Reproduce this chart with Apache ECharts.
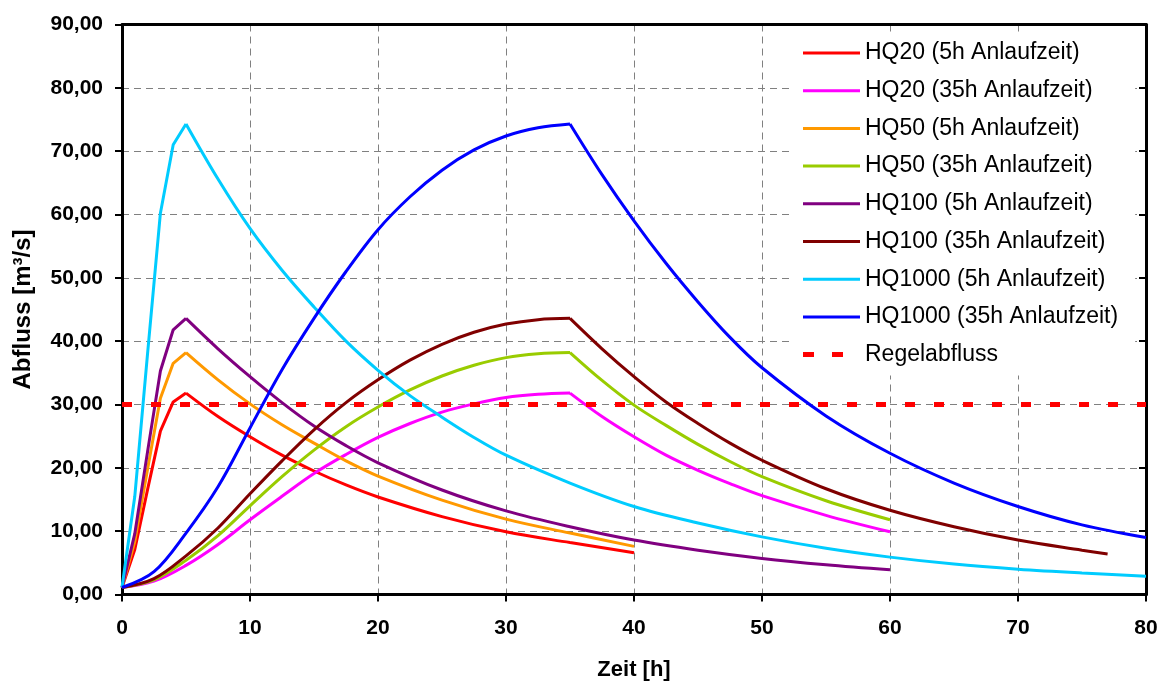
<!DOCTYPE html>
<html>
<head>
<meta charset="utf-8">
<script src="https://cdn.jsdelivr.net/npm/echarts@6/dist/echarts.min.js"></script>
<style>
  html, body { margin: 0; padding: 0; background: #fff; }
  #chart { width: 1161px; height: 682px; }
</style>
</head>
<body>
<div id="chart"></div>
<script>
// Abflussganglinien: Zeit [h] gegen Abfluss [m³/s]

// HQ20 (5h Anlaufzeit)
const tHQ20_5 = [0, 1, 2, 3, 4, 5, 7.5, 10, 12.5, 15, 17.5, 20, 25, 30, 35, 40];
const qHQ20_5 = [1.1, 7.1, 16.6, 25.8, 30.4, 31.8, 28.1, 24.9, 22.0, 19.5, 17.3, 15.4, 12.3, 9.9, 8.2, 6.6];

// HQ20 (35h Anlaufzeit)
const tHQ20_35 = [0, 2.5, 5, 7.5, 10, 12.5, 15, 17.5, 20, 22.5, 25, 27.5, 30, 32.5, 35, 37.5, 40, 42.5, 45, 47.5, 50, 55, 60];
const qHQ20_35 = [1.1, 2.1, 4.6, 7.9, 11.8, 15.5, 19.1, 22.1, 24.8, 27.0, 28.8, 30.1, 31.1, 31.6, 31.8, 28.1, 24.9, 22.0, 19.6, 17.5, 15.6, 12.5, 9.9];

// HQ50 (5h Anlaufzeit)
const tHQ50_5 = [0, 1, 2, 3, 4, 5, 7.5, 10, 12.5, 15, 17.5, 20, 25, 30, 35, 40];
const qHQ50_5 = [1.1, 8.4, 19.8, 31.0, 36.5, 38.2, 33.9, 30.1, 26.8, 23.9, 21.1, 18.7, 14.9, 11.9, 9.7, 7.6];

// HQ50 (35h Anlaufzeit)
const tHQ50_35 = [0, 2.5, 5, 7.5, 10, 12.5, 15, 17.5, 20, 22.5, 25, 27.5, 30, 32.5, 35, 37.5, 40, 42.5, 45, 47.5, 50, 55, 60];
const qHQ50_35 = [1.1, 2.3, 5.4, 9.3, 14.0, 18.6, 22.8, 26.5, 29.6, 32.3, 34.5, 36.2, 37.4, 38.0, 38.2, 33.8, 29.9, 26.7, 23.7, 21.0, 18.6, 14.8, 11.8];

// HQ100 (5h Anlaufzeit)
const tHQ100_5 = [0, 1, 2, 3, 4, 5, 7.5, 10, 12.5, 15, 17.5, 20, 25, 30, 35, 40, 45, 50, 55, 60];
const qHQ100_5 = [1.1, 9.6, 22.6, 35.3, 41.8, 43.6, 38.8, 34.4, 30.3, 26.6, 23.5, 20.8, 16.5, 13.2, 10.7, 8.6, 7.0, 5.7, 4.7, 3.9];

// HQ100 (35h Anlaufzeit)
const tHQ100_35 = [0, 2.5, 5, 7.5, 10, 12.5, 15, 17.5, 20, 22.5, 25, 27.5, 30, 32.5, 35, 37.5, 40, 42.5, 45, 47.5, 50, 55, 60, 65, 70, 75, 77];
const qHQ100_35 = [1.1, 2.5, 6.1, 10.5, 15.9, 21.1, 26.0, 30.3, 33.9, 37.0, 39.5, 41.4, 42.7, 43.4, 43.6, 38.8, 34.4, 30.4, 27.0, 23.9, 21.2, 16.7, 13.3, 10.7, 8.6, 7.0, 6.4];

// HQ1000 (5h Anlaufzeit)
const tHQ1000_5 = [0, 1, 2, 3, 4, 5, 7.5, 10, 12.5, 15, 17.5, 20, 22.5, 25, 27.5, 30, 35, 40, 45, 50, 55, 60, 65, 70, 75, 80];
const qHQ1000_5 = [1.1, 15.5, 38.1, 60.2, 71.0, 74.3, 65.6, 57.8, 51.2, 45.4, 40.0, 35.4, 31.4, 28.0, 24.8, 22.0, 17.6, 13.9, 11.3, 9.1, 7.3, 5.9, 4.8, 4.0, 3.4, 2.9];

// HQ1000 (35h Anlaufzeit)
const tHQ1000_35 = [0, 2.5, 5, 7.5, 10, 12.5, 15, 17.5, 20, 22.5, 25, 27.5, 30, 32.5, 35, 37.5, 40, 42.5, 45, 47.5, 50, 55, 60, 65, 70, 75, 80];
const qHQ1000_35 = [1.1, 3.6, 9.7, 17.0, 26.3, 35.5, 43.6, 51.0, 57.6, 62.8, 67.0, 70.2, 72.4, 73.7, 74.3, 66.3, 59.0, 52.3, 46.2, 40.6, 35.8, 28.2, 22.3, 17.6, 13.9, 11.0, 9.0];

// Regelabfluss
const tRegel = [0, 80];
const qRegel = [30, 30];

// Zeitpunkt des Scheitels je Ganglinie (Anlaufzeit)
const peakTime = [5, 35, 5, 35, 5, 35, 5, 35];

const curveNames = [
  'HQ20 (5h Anlaufzeit)', 'HQ20 (35h Anlaufzeit)',
  'HQ50 (5h Anlaufzeit)', 'HQ50 (35h Anlaufzeit)',
  'HQ100 (5h Anlaufzeit)', 'HQ100 (35h Anlaufzeit)',
  'HQ1000 (5h Anlaufzeit)', 'HQ1000 (35h Anlaufzeit)'
];
const curveColors = ['#FF0000', '#FF00FF', '#FF9900', '#99CC00', '#800080', '#800000', '#00CCFF', '#0000FF'];
const curveT = [tHQ20_5, tHQ20_35, tHQ50_5, tHQ50_35, tHQ100_5, tHQ100_35, tHQ1000_5, tHQ1000_35];
const curveQ = [qHQ20_5, qHQ20_35, qHQ50_5, qHQ50_35, qHQ100_5, qHQ100_35, qHQ1000_5, qHQ1000_35];

const regelName = 'Regelabfluss';
const regelColor = '#FF0000';

const FONT = 'Liberation Sans, Arial, sans-serif';

// Each hydrograph is drawn as rising limb + falling limb sharing one legend entry,
// so the crest stays a sharp corner while the limbs are smoothed.
const series = [];
curveNames.forEach((name, i) => {
  const pts = curveT[i].map((t, k) => [t, curveQ[i][k]]);
  const rise = pts.filter(p => p[0] <= peakTime[i]);
  const fall = pts.filter(p => p[0] >= peakTime[i]);
  const base = {
    name: name,
    type: 'line',
    symbol: 'none',
    showSymbol: false,
    color: curveColors[i],
    lineStyle: { color: curveColors[i], width: 3 },
    z: 2
  };
  // short rise (5h) is an hourly polyline; long rise (35h) is smooth
  series.push(Object.assign({}, base, {
    data: rise,
    smooth: peakTime[i] > 5 ? 0.35 : false
  }));
  series.push(Object.assign({}, base, {
    data: fall,
    smooth: 0.35
  }));
});
series.push({
  name: regelName,
  type: 'line',
  symbol: 'none',
  showSymbol: false,
  color: regelColor,
  data: tRegel.map((t, k) => [t, qRegel[k]]),
  lineStyle: { color: regelColor, width: 5, type: [10, 19], cap: 'butt' },
  z: 3
});

// legend keys: solid bar for the hydrographs, two short dashes for Regelabfluss
const solidKey = 'path://M0,1H57V4H0Z M0,0V5 M57,0V5';
const dashKey = 'path://M0,0H11V5H0Z M29,0H40V5H29Z M57,0V5';
const legendData = curveNames.map(n => ({ name: n, icon: solidKey }))
  .concat([{ name: regelName, icon: dashKey }]);

const chart = echarts.init(document.getElementById('chart'), null, { renderer: 'canvas' });

const yLabel = v => v.toFixed(2).replace('.', ',');

const axisBlack = { color: '#000', width: 3 };
const gridLine = { color: '#808080', width: 1, type: [7, 5] };

chart.setOption({
  animation: false,
  backgroundColor: '#fff',
  grid: { left: 122, right: 15, top: 24.5, bottom: 87.5, outerBoundsMode: 'none' },
  legend: {
    orient: 'vertical',
    left: 790,
    top: 33,
    padding: [7, 17, 8, 13],
    itemGap: 11.7,
    itemWidth: 57,
    itemHeight: 5,
    backgroundColor: '#fff',
    data: legendData,
    textStyle: { fontFamily: FONT, fontSize: 23, color: '#000', lineHeight: 26 }
  },
  xAxis: [
    {
      type: 'value',
      min: 0,
      max: 80,
      interval: 10,
      position: 'bottom',
      name: 'Zeit [h]',
      nameLocation: 'middle',
      nameGap: 64,
      nameTextStyle: { fontFamily: FONT, fontSize: 22, fontWeight: 'bold', color: '#000' },
      axisLine: { onZero: false, lineStyle: axisBlack },
      axisTick: { length: 7, lineStyle: { color: '#000', width: 2 } },
      axisLabel: { margin: 23, fontFamily: FONT, fontSize: 21, fontWeight: 'bold', color: '#000' },
      splitLine: { show: true, lineStyle: gridLine }
    },
    {
      type: 'value',
      min: 0,
      max: 80,
      interval: 10,
      position: 'top',
      axisLine: { show: true, onZero: false, lineStyle: axisBlack },
      axisTick: { show: false },
      axisLabel: { show: false },
      splitLine: { show: false }
    }
  ],
  yAxis: [
    {
      type: 'value',
      min: 0,
      max: 90,
      interval: 10,
      position: 'left',
      name: 'Abfluss [m³/s]',
      nameLocation: 'middle',
      nameGap: 87,
      nameTextStyle: { fontFamily: FONT, fontSize: 24, fontWeight: 'bold', color: '#000' },
      axisLine: { show: true, onZero: false, lineStyle: axisBlack },
      axisTick: { show: true, length: 7, lineStyle: { color: '#000', width: 2 } },
      axisLabel: { margin: 19, fontFamily: FONT, fontSize: 21, fontWeight: 'bold', color: '#000', formatter: yLabel },
      splitLine: { show: true, lineStyle: gridLine }
    },
    {
      type: 'value',
      min: 0,
      max: 90,
      interval: 10,
      position: 'right',
      axisLine: { show: true, onZero: false, lineStyle: axisBlack },
      axisTick: { show: true, inside: true, length: 7, lineStyle: { color: '#000', width: 2 } },
      axisLabel: { show: false },
      splitLine: { show: false }
    }
  ],
  series: series
});
</script>
</body>
</html>
